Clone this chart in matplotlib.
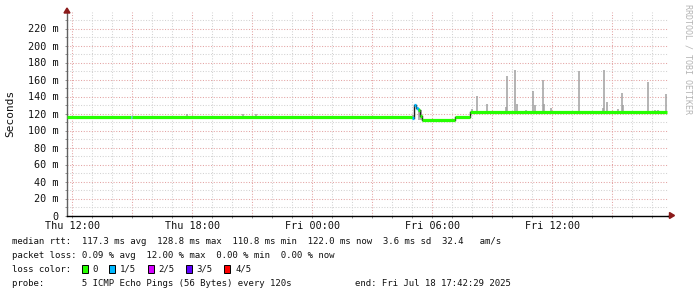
import numpy as np
import matplotlib
matplotlib.use("Agg")
import matplotlib.pyplot as plt
from matplotlib.patches import Polygon, Rectangle

# ---------------- data (hours since Thu 11:42:29, values in ms) ----------------
med_t = [0.0, 3.2, 3.27, 17.25, 17.37, 17.47, 17.57, 17.67, 17.77, 19.4, 20.17, 30.0]
med_v = [115.3, 115.3, 115.3, 114.5, 129.5, 126.0, 124.0, 117.5, 112.3, 115.3, 122.2]
med_loss = [0, 1, 0, 1, 1, 1, 0, 0, 0, 0, 0]

spike_t = [6.0, 8.8, 9.45, 17.3, 17.6, 17.72, 20.25, 20.5, 21.0, 21.95, 22.0, 22.4, 22.5,
           22.95, 23.3, 23.4, 23.8, 23.85, 24.2, 25.6, 26.8, 26.85, 27.0, 27.55, 27.75,
           27.8, 29.05, 29.4, 29.55, 29.95]
spike_hi = [119.6, 120.0, 120.0, 118.0, 127.0, 124.0, 125.0, 141.0, 130.6, 128.0, 164.7,
            170.6, 130.6, 124.5, 145.9, 130.0, 160.0, 131.0, 126.0, 169.8, 127.0, 170.6,
            134.0, 125.0, 144.7, 130.0, 156.5, 124.5, 124.5, 143.5]

x_major_labels = ["Thu 12:00", "Thu 18:00", "Fri 00:00", "Fri 06:00", "Fri 12:00"]
first_label_h = 0.2919  # Thu 12:00 relative to start
y_ticks = list(range(0, 240, 20))

loss_names = ["0", "1/5", "2/5", "3/5", "4/5"]
loss_colors = ["#26ff00", "#00b8ff", "#d400ff", "#5e00ff", "#ff0000"]

legend_line1 = "median rtt:  117.3 ms avg  128.8 ms max  110.8 ms min  122.0 ms now  3.6 ms sd  32.4   am/s"
legend_line2 = "packet loss: 0.09 % avg  12.00 % max  0.00 % min  0.00 % now"
legend_line3 = "loss color:"
legend_line4 = "probe:       5 ICMP Echo Pings (56 Bytes) every 120s"
legend_end = "end: Fri Jul 18 17:42:29 2025"

# ---------------- figure ----------------
W, H = 697, 297
fig = plt.figure(figsize=(W / 100, H / 100), dpi=100)
fig.patch.set_facecolor("white")

def fx(px):
    return px / W

def fy(py):
    return 1 - py / H

left_px, right_px, bottom_px, top_px = 66.5, 668, 215.5, 12
ax = fig.add_axes([fx(left_px), fy(bottom_px), fx(right_px) - fx(left_px), fy(top_px) - fy(bottom_px)])
xmax = (right_px - left_px) / 20.0
ymax = (bottom_px - top_px) / 0.85
ax.set_xlim(0, xmax)
ax.set_ylim(0, ymax)
ax.set_facecolor("white")

mono = "DejaVu Sans Mono"

# grid
minor_c, major_c = "#d2d2d2", "#e3a3a3"
dot = (0, (1, 1.6))
for h in np.arange(first_label_h - 0, xmax, 1.0):
    k = int(round(h - first_label_h))
    ax.axvline(h, color=major_c if k % 3 == 0 else minor_c, lw=0.75, ls=dot, zorder=0)
for v in range(10, int(ymax) + 1, 10):
    ax.axhline(v, color=major_c if v % 20 == 0 else minor_c, lw=0.75, ls=dot, zorder=0)

# smoke
st = np.array(med_t[:-1])
sv = np.array(med_v)
for t, hi in zip(spike_t, spike_hi):
    idx = np.searchsorted(st, t, side="right") - 1
    lo = sv[idx] if hi > sv[idx] else hi - 4
    if t > 17.5 and t < 17.8:
        lo = 112.3
    ax.vlines(t, lo, hi, color="#a0a0a0", lw=1.1, zorder=2)

# median line coloured by loss
for i in range(len(med_v)):
    t0, t1 = med_t[i], med_t[i + 1]
    c = loss_colors[med_loss[i]]
    ax.plot([t0, t1], [med_v[i], med_v[i]], color=c, lw=2.3, solid_capstyle="butt", zorder=3)
    if i + 1 < len(med_v) and med_v[i + 1] != med_v[i]:
        ax.plot([t1, t1], [med_v[i], med_v[i + 1]], color="#202020" if abs(med_v[i+1]-med_v[i]) > 2 else c,
                lw=1.0, zorder=2.5)

# axes / ticks
for s in ["top", "right"]:
    ax.spines[s].set_visible(False)
ax.spines["left"].set_color("#606060")
ax.spines["left"].set_linewidth(1.0)
ax.spines["bottom"].set_color("black")
ax.spines["bottom"].set_linewidth(1.0)

ax.set_yticks(y_ticks)
ax.set_yticklabels(["0" if v == 0 else f"{v} m" for v in y_ticks])
ax.set_yticks(range(10, int(ymax) + 1, 20), minor=True)
xt = [first_label_h + 6 * k for k in range(len(x_major_labels))]
ax.set_xticks(xt)
ax.set_xticklabels(x_major_labels)
ax.set_xticks(np.arange(first_label_h, xmax, 1.0), minor=True)
ax.tick_params(axis="both", which="both", direction="out", length=1.5, width=0.7, color="#909090")
ax.tick_params(axis="y", which="major", pad=4.5, labelsize=7.3)
ax.tick_params(axis="x", which="major", pad=2.2, labelsize=7.3)
for lab in ax.get_xticklabels() + ax.get_yticklabels():
    lab.set_family(mono)
    lab.set_color("#111111")

# arrows
arrow_c = "#8b1a1a"
fig.patches.append(Polygon([[fx(67), fy(8)], [fx(64), fy(13)], [fx(70), fy(13)]],
                           closed=True, transform=fig.transFigure, color=arrow_c, zorder=5))
fig.lines.append(plt.Line2D([fx(668), fx(670)], [fy(bottom_px), fy(bottom_px)],
                            transform=fig.transFigure, color="black", lw=1.0))
fig.patches.append(Polygon([[fx(674.5), fy(215.5)], [fx(669.5), fy(212.5)], [fx(669.5), fy(218.5)]],
                           closed=True, transform=fig.transFigure, color=arrow_c, zorder=5))

# y label and watermark
fig.text(fx(10), fy(113), "Seconds", rotation=90, ha="center", va="center",
         family=mono, fontsize=8, color="#111111")
fig.text(fx(688), fy(59), "RRDTOOL / TOBI OETIKER", rotation=270, ha="center", va="center",
         family=mono, fontsize=6.0, color="#b4b4b4")

# legend
lfs = 6.45
tc = "#111111"
fig.text(fx(12), fy(241.5), legend_line1, family=mono, fontsize=lfs, va="center", ha="left", color=tc)
fig.text(fx(12), fy(255), legend_line2, family=mono, fontsize=lfs, va="center", ha="left", color=tc)
fig.text(fx(12), fy(269.3), legend_line3, family=mono, fontsize=lfs, va="center", ha="left", color=tc)
fig.text(fx(12), fy(283), legend_line4, family=mono, fontsize=lfs, va="center", ha="left", color=tc)
fig.text(fx(510.5), fy(283), legend_end, family=mono, fontsize=lfs, va="center", ha="right", color=tc)

box_x = [81.7, 109.0, 147.7, 185.7, 224.0]
lab_x = [92.3, 120.0, 158.3, 196.7, 235.0]
for bx, lx, name, col in zip(box_x, lab_x, loss_names, loss_colors):
    fig.patches.append(Rectangle((fx(bx), fy(273.3)), 6 / W, 8 / H, transform=fig.transFigure,
                                 facecolor=col, edgecolor="black", lw=0.7))
    fig.text(fx(lx), fy(269.3), name, family=mono, fontsize=lfs, va="center", ha="left", color=tc)

fig.savefig("out.png", dpi=100, facecolor="white")
